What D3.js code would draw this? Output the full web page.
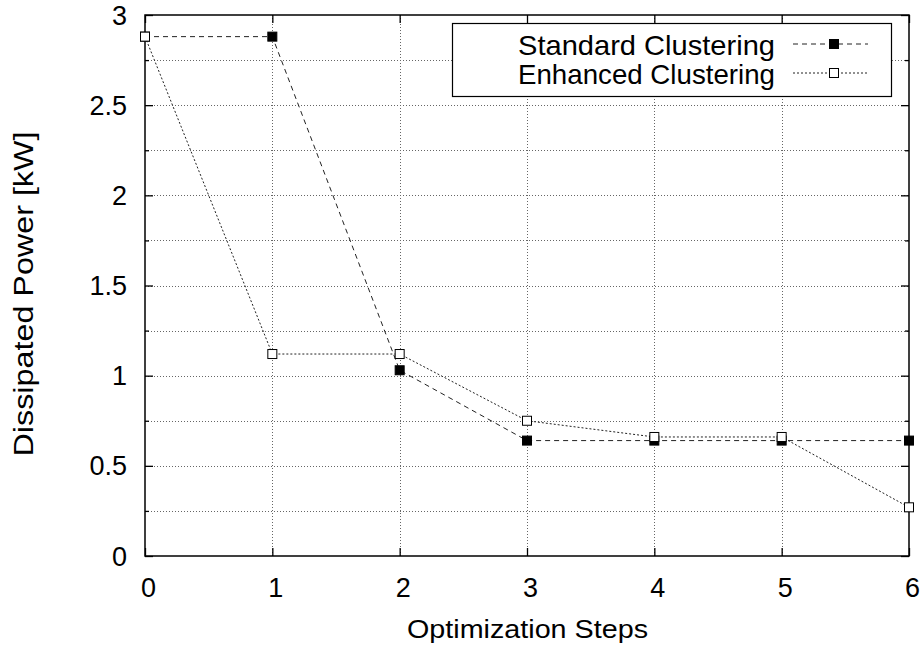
<!DOCTYPE html>
<html>
<head>
<meta charset="utf-8">
<script src="https://cdn.jsdelivr.net/npm/d3@7"></script>
<style>
  body { margin: 0; background: #fff; }
  svg text { font-family: "Liberation Sans", Arial, Helvetica, sans-serif; fill: #000; }
</style>
</head>
<body>
<svg id="chart" width="923" height="653"></svg>
<script>
// data
const steps = [0, 1, 2, 3, 4, 5, 6];
const standardPower = [2.88, 2.88, 1.03, 0.64, 0.64, 0.64, 0.64];
const enhancedPower = [2.88, 1.12, 1.12, 0.75, 0.66, 0.66, 0.27];
const seriesNames = ["Standard Clustering", "Enhanced Clustering"];
const yTickLabels = [0, 0.5, 1, 1.5, 2, 2.5, 3];
const yMinorTicks = [0.25, 0.75, 1.25, 1.75, 2.25, 2.75];

const svg = d3.select("#chart");
const margin = { left: 145, right: 14, top: 15, bottom: 97 };
const width = 923, height = 653;

const x = d3.scaleLinear().domain([0, 6]).range([margin.left, width - margin.right]);
const y = d3.scaleLinear().domain([0, 3]).range([height - margin.bottom, margin.top]);

const grid = svg.append("g").attr("stroke", "#666").attr("stroke-width", 1)
    .attr("stroke-dasharray", "1,2");

grid.selectAll("line.h")
    .data(yTickLabels.concat(yMinorTicks).filter(v => v > 0 && v < 3))
    .enter().append("line")
    .attr("x1", x(0)).attr("x2", x(6))
    .attr("y1", d => Math.round(y(d)) + 0.5).attr("y2", d => Math.round(y(d)) + 0.5);

grid.selectAll("line.v")
    .data(steps.filter(v => v > 0 && v < 6))
    .enter().append("line")
    .attr("x1", d => Math.round(x(d)) + 0.5).attr("x2", d => Math.round(x(d)) + 0.5)
    .attr("y1", y(0)).attr("y2", y(3));

// axes - ticks pointing inward on all four sides
const axes = svg.append("g");
axes.append("g").attr("transform", `translate(0,${y(0)})`)
    .call(d3.axisTop(x).tickValues(steps).tickSize(8).tickFormat(""));
axes.append("g").attr("transform", `translate(0,${y(3)})`)
    .call(d3.axisBottom(x).tickValues(steps).tickSize(8).tickFormat(""));
axes.append("g").attr("transform", `translate(${x(0)},0)`)
    .call(d3.axisRight(y).tickValues(yTickLabels).tickSize(8).tickFormat(""));
axes.append("g").attr("transform", `translate(${x(0)},0)`)
    .call(d3.axisRight(y).tickValues(yMinorTicks).tickSize(4).tickFormat(""));
axes.append("g").attr("transform", `translate(${x(6)},0)`)
    .call(d3.axisLeft(y).tickValues(yTickLabels).tickSize(8).tickFormat(""));
axes.append("g").attr("transform", `translate(${x(6)},0)`)
    .call(d3.axisLeft(y).tickValues(yMinorTicks).tickSize(4).tickFormat(""));
axes.selectAll(".domain").remove();
axes.selectAll(".tick line").attr("stroke", "#000").attr("stroke-width", 1.3);

svg.append("rect")
    .attr("x", x(0)).attr("y", y(3))
    .attr("width", x(6) - x(0)).attr("height", y(0) - y(3))
    .attr("fill", "none").attr("stroke", "#000").attr("stroke-width", 1.5);

// tick labels
svg.append("g").selectAll("text")
    .data(steps).enter().append("text")
    .attr("x", d => x(d) + 3.5).attr("y", y(0) + 41)
    .attr("text-anchor", "middle").attr("font-size", 27)
    .text(d => d);

svg.append("g").selectAll("text")
    .data(yTickLabels).enter().append("text")
    .attr("x", 127).attr("y", d => y(d) + 9.5)
    .attr("text-anchor", "end").attr("font-size", 27)
    .text(d => d);

svg.append("text")
    .attr("x", 527.5).attr("y", 638)
    .attr("text-anchor", "middle").attr("font-size", 26)
    .attr("textLength", 241).attr("lengthAdjust", "spacingAndGlyphs")
    .text("Optimization Steps");

svg.append("text")
    .attr("transform", `translate(33, 294) rotate(-90)`)
    .attr("text-anchor", "middle").attr("font-size", 27)
    .attr("textLength", 325).attr("lengthAdjust", "spacingAndGlyphs")
    .text("Dissipated Power [kW]");

// series
const line = d3.line().x((d, i) => x(steps[i])).y(d => y(d));
const styles = [
    { data: standardPower, dash: "5,4", fill: "#000" },
    { data: enhancedPower, dash: "2,2", fill: "#fff" }
];

styles.forEach(s => {
    svg.append("path")
        .datum(s.data)
        .attr("d", line)
        .attr("fill", "none").attr("stroke", "#222").attr("stroke-width", 1)
        .attr("stroke-dasharray", s.dash);
});
styles.forEach(s => {
    svg.append("g").selectAll("rect")
        .data(s.data).enter().append("rect")
        .attr("x", (d, i) => x(steps[i]) - 4.5).attr("y", d => y(d) - 4.5)
        .attr("width", 9).attr("height", 9)
        .attr("fill", s.fill).attr("stroke", "#000").attr("stroke-width", 1);
});

// legend
const legend = svg.append("g");
legend.append("rect")
    .attr("x", 452.5).attr("y", 23.5).attr("width", 439).attr("height", 73)
    .attr("fill", "#fff").attr("stroke", "#000").attr("stroke-width", 1.2);

const legendWidths = [257, 257];
styles.forEach((s, i) => {
    const ly = 44 + i * 29;
    legend.append("text")
        .attr("x", 775).attr("y", ly + 10.5)
        .attr("text-anchor", "end").attr("font-size", 28)
        .attr("textLength", legendWidths[i]).attr("lengthAdjust", "spacingAndGlyphs")
        .text(seriesNames[i]);
    legend.append("line")
        .attr("x1", 793).attr("x2", 868).attr("y1", ly).attr("y2", ly)
        .attr("stroke", "#222").attr("stroke-width", 1).attr("stroke-dasharray", s.dash);
    legend.append("rect")
        .attr("x", 829.5).attr("y", ly - 4.5).attr("width", 9).attr("height", 9)
        .attr("fill", s.fill).attr("stroke", "#000").attr("stroke-width", 1);
});
</script>
</body>
</html>
